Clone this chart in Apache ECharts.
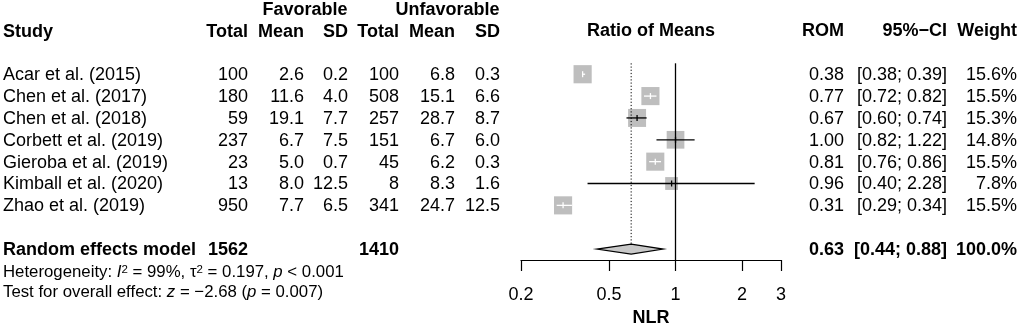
<!DOCTYPE html>
<html>
<head>
<meta charset="utf-8">
<script src="https://cdn.jsdelivr.net/npm/echarts@6/dist/echarts.min.js"></script>
<style>
  html, body { margin: 0; padding: 0; background: #fff; }
  #chart { width: 1021px; height: 324px; }
</style>
</head>
<body>
<div id="chart"></div>
<script>
// study table
const studies = ['Acar et al. (2015)', 'Chen et al. (2017)', 'Chen et al. (2018)', 'Corbett et al. (2019)',
  'Gieroba et al. (2019)', 'Kimball et al. (2020)', 'Zhao et al. (2019)']
const favTotal = [100, 180, 59, 237, 23, 13, 950]
const favMean = ['2.6', '11.6', '19.1', '6.7', '5.0', '8.0', '7.7']
const favSD = ['0.2', '4.0', '7.7', '7.5', '0.7', '12.5', '6.5']
const unfTotal = [100, 508, 257, 151, 45, 8, 341]
const unfMean = ['6.8', '15.1', '28.7', '6.7', '6.2', '8.3', '24.7']
const unfSD = ['0.3', '6.6', '8.7', '6.0', '0.3', '1.6', '12.5']
const rom = [0.38, 0.77, 0.67, 1.00, 0.81, 0.96, 0.31]
const ciLow = [0.38, 0.72, 0.60, 0.82, 0.76, 0.40, 0.29]
const ciHigh = [0.39, 0.82, 0.74, 1.22, 0.86, 2.28, 0.34]
const weight = [15.6, 15.5, 15.3, 14.8, 15.5, 7.8, 15.5]

// random effects model
const pooledTotals = [1562, 1410]
const pooledEst = 0.63
const pooledLow = 0.44
const pooledHigh = 0.88
const pooledWeight = 100.0
const hetI2 = '99%'
const hetTau2 = '0.197'
const hetP = '< 0.001'
const testZ = '\u22122.68'
const testP = '0.007'

// axis
const tickValues = [0.2, 0.5, 1, 2, 3]
const nullEffect = 1

const FONT = "'Liberation Sans', Arial, Helvetica, sans-serif"
const rows = studies.map((s, i) => i + 1)
const pooledRow = studies.length + 2

const chart = echarts.init(document.getElementById('chart'), null, { renderer: 'canvas' })

chart.setOption({
  animation: false,
  grid: { left: 521, width: 260, top: 63.3, height: 196.7, outerBoundsMode: 'none', containLabel: false },
  xAxis: {
    type: 'log',
    logBase: 10,
    min: 0.2,
    max: 3,
    axisLine: { lineStyle: { color: '#000', width: 1.2 } },
    axisTick: { length: 11, customValues: tickValues, lineStyle: { color: '#000', width: 1.2 } },
    axisLabel: {
      customValues: tickValues,
      color: '#000',
      fontSize: 18,
      fontFamily: FONT,
      margin: 26,
      formatter: v => String(+Number(v).toPrecision(2))
    },
    splitLine: { show: false },
    name: 'NLR',
    nameLocation: 'middle',
    nameGap: 46,
    nameTextStyle: { color: '#000', fontSize: 18, fontWeight: 'bold', fontFamily: FONT }
  },
  yAxis: { type: 'value', min: 0.5, max: 9.5, inverse: true, show: false },
  series: [
    {
      // studies: squares + CIs
      type: 'custom',
      data: rom.map((v, i) => [v, ciLow[i], ciHigh[i], weight[i], rows[i]]),
      encode: { x: [0, 1, 2], y: 4 },
      z: 2,
      renderItem: (params, api) => {
        const r = api.value(4)
        const c = api.coord([api.value(0), r])
        const xl = api.coord([api.value(1), r])[0]
        const xh = api.coord([api.value(2), r])[0]
        const s = 4.6 * Math.sqrt(api.value(3))
        const inside = xl >= c[0] - s / 2 && xh <= c[0] + s / 2
        const col = inside ? '#fff' : '#000'
        return {
          type: 'group',
          children: [
            { type: 'rect', shape: { x: c[0] - s / 2, y: c[1] - s / 2, width: s, height: s }, style: { fill: '#bebebe' } },
            { type: 'line', shape: { x1: xl, y1: c[1], x2: xh, y2: c[1] }, style: { stroke: col, lineWidth: 1.3 } },
            { type: 'line', shape: { x1: c[0], y1: c[1] - 3, x2: c[0], y2: c[1] + 3 }, style: { stroke: col, lineWidth: 1.3 } }
          ]
        }
      }
    },
    {
      // pooled diamond + dotted line, null-effect line on top
      type: 'custom',
      data: [[pooledEst, pooledLow, pooledHigh, pooledRow]],
      encode: { x: [0, 1, 2], y: 3 },
      z: 4,
      renderItem: (params, api) => {
        const r = api.value(3)
        const c = api.coord([api.value(0), r])
        const xl = api.coord([api.value(1), r])[0]
        const xh = api.coord([api.value(2), r])[0]
        const top = api.coord([api.value(0), 0.5])[1]
        const h = 5
        return {
          type: 'group',
          children: [
            { type: 'line', shape: { x1: c[0], y1: top, x2: c[0], y2: c[1] - h }, style: { stroke: '#000', lineWidth: 1, lineDash: [1.2, 2] } },
            {
              type: 'polygon',
              shape: { points: [[xl, c[1]], [c[0], c[1] - h], [xh, c[1]], [c[0], c[1] + h]] },
              style: { fill: '#c8c8c8', stroke: '#000', lineWidth: 1.2 }
            }
          ]
        }
      },
      markLine: {
        silent: true,
        symbol: 'none',
        z: 5,
        label: { show: false },
        lineStyle: { color: '#000', type: 'solid', width: 1.3 },
        data: [{ xAxis: nullEffect }]
      }
    }
  ]
})

// table text
const yOf = r => chart.convertToPixel({ yAxisIndex: 0 }, r)
const txt = (text, x, y, align, bold, size) => ({
  type: 'text',
  x: x,
  y: y,
  silent: true,
  style: {
    text: text,
    fill: '#000',
    fontSize: size || 18,
    fontFamily: FONT,
    fontWeight: bold ? 'bold' : 'normal',
    align: align,
    verticalAlign: 'middle'
  }
})

const colRight = [248, 304, 348, 399, 455, 500]
const romRight = 844
const ciRight = 947
const wRight = 1017
const g = []

// headers
g.push(txt('Favorable', 305, 10, 'center', true))
g.push(txt('Unfavorable', 447.5, 10, 'center', true))
g.push(txt('Study', 3, 32, 'left', true))
;['Total', 'Mean', 'SD', 'Total', 'Mean', 'SD'].forEach((h, j) => g.push(txt(h, colRight[j], 32, 'right', true)))
g.push(txt('Ratio of Means', 651, 31, 'center', true))
g.push(txt('ROM', romRight, 31, 'right', true))
g.push(txt('95%\u2212CI', ciRight, 31, 'right', true))
g.push(txt('Weight', wRight, 31, 'right', true))

// study rows
studies.forEach((s, i) => {
  const y = yOf(rows[i]) + 1
  g.push(txt(s, 3, y, 'left'))
  const cells = [favTotal[i], favMean[i], favSD[i], unfTotal[i], unfMean[i], unfSD[i]]
  cells.forEach((v, j) => g.push(txt(String(v), colRight[j], y, 'right')))
  g.push(txt(rom[i].toFixed(2), romRight, y, 'right'))
  g.push(txt('[' + ciLow[i].toFixed(2) + '; ' + ciHigh[i].toFixed(2) + ']', ciRight, y, 'right'))
  g.push(txt(weight[i].toFixed(1) + '%', wRight, y, 'right'))
})

// pooled row
const py = yOf(pooledRow) + 1
g.push(txt('Random effects model', 3, py, 'left', true))
g.push(txt(String(pooledTotals[0]), colRight[0], py, 'right', true))
g.push(txt(String(pooledTotals[1]), colRight[3], py, 'right', true))
g.push(txt(pooledEst.toFixed(2), romRight, py, 'right', true))
g.push(txt('[' + pooledLow.toFixed(2) + '; ' + pooledHigh.toFixed(2) + ']', ciRight, py, 'right', true))
g.push(txt(pooledWeight.toFixed(1) + '%', wRight, py, 'right', true))

// heterogeneity + overall test
const fs = 16.8
const rich = {
  n: { fontSize: fs, fontFamily: FONT, fill: '#000' },
  it: { fontSize: fs, fontFamily: FONT, fill: '#000', fontStyle: 'italic' },
  sup: { fontSize: 11.5, fontFamily: FONT, fill: '#000', verticalAlign: 'top', lineHeight: 11 }
}
const richTxt = (text, y) => ({
  type: 'text',
  x: 3,
  y: y,
  silent: true,
  style: { text: text, rich: rich, fontSize: fs, fontFamily: FONT, fill: '#000', align: 'left', verticalAlign: 'middle' }
})
g.push(richTxt('{n|Heterogeneity: }{it|I}{sup|2}{n| = ' + hetI2 + ', \u03c4}{sup|2}{n| = ' + hetTau2 + ', }{it|p}{n| ' + hetP + '}', 272))
g.push(richTxt('{n|Test for overall effect: }{it|z}{n| = ' + testZ + ' (}{it|p}{n| = ' + testP + ')}', 292))

chart.setOption({ graphic: g })
</script>
</body>
</html>
